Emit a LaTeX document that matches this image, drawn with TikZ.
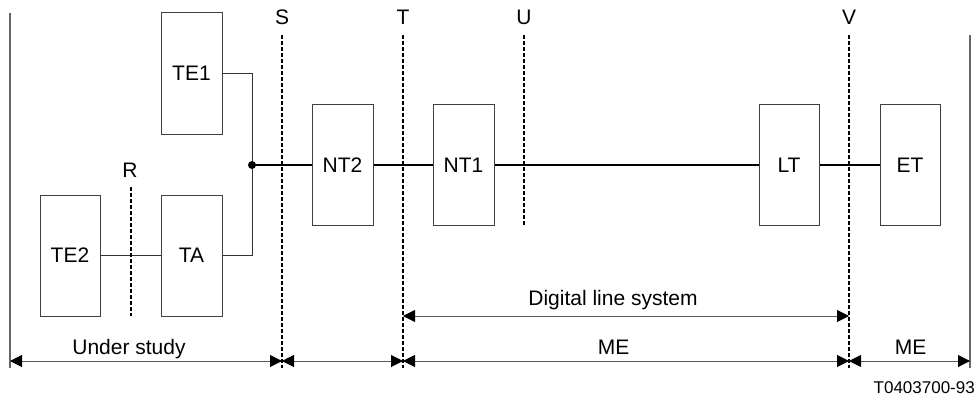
\documentclass[tikz,border=0pt]{standalone}
\usepackage{fontspec}
\setmainfont{Liberation Sans}
\usetikzlibrary{arrows.meta}
\begin{document}
\begin{tikzpicture}[x=1pt,y=-1pt,
  box/.style={draw=black!75,line width=1pt,rectangle,inner sep=0pt,font=\fontsize{21}{25}\selectfont},
  lbl/.style={inner sep=0pt,anchor=base,font=\fontsize{21}{25}\selectfont},
  thin/.style={draw=black!80,line width=1pt},
  thick/.style={draw=black,line width=1.8pt},
  refline/.style={draw=black,line width=1.6pt,dash pattern=on 4pt off 2pt},
  bound/.style={draw=black!60,line width=1.3pt},
  tip/.style={},
  dim/.style={draw=black!65,line width=1pt,{Triangle[length=12pt,width=12pt,black]}-{Triangle[length=12pt,width=12pt,black]}}
]
\useasboundingbox (0,0) rectangle (979,401);
% boxes
\node[box,minimum width=61pt,minimum height=121pt] (TE1) at (191.5,73.5) {TE1};
\node[box,minimum width=60pt,minimum height=121pt] (TE2) at (70,255.5) {TE2};
\node[box,minimum width=61pt,minimum height=121pt] (TA) at (191.5,255.5) {TA};
\node[box,minimum width=61pt,minimum height=120pt] (NT2) at (342.5,165) {NT2};
\node[box,minimum width=61pt,minimum height=120pt] (NT1) at (463.5,165) {NT1};
\node[box,minimum width=60pt,minimum height=120pt] (LT) at (789,165) {LT};
\node[box,minimum width=60pt,minimum height=120pt] (ET) at (910,165) {ET};
% reference point labels
\node[lbl] (R) at (130,177) {R};
\node[lbl] (S) at (282,25) {S};
\node[lbl] (T) at (403,25) {T};
\node[lbl] (U) at (524,25) {U};
\node[lbl] (V) at (849,25) {V};
% coordinates
\coordinate (dot) at (252,165);
\coordinate (Rt) at (131,187); \coordinate (Rb) at (131,316);
\coordinate (St) at (282,35); \coordinate (Sb) at (282,368);
\coordinate (Tt) at (403,35); \coordinate (Tb) at (403,368);
\coordinate (Ut) at (524,35); \coordinate (Ub) at (524,225);
\coordinate (Vt) at (849,35); \coordinate (Vb) at (849,368);
\coordinate (Lt) at (10,13); \coordinate (Lb) at (10,368);
\coordinate (Et) at (970,35); \coordinate (Eb) at (970,368);
\coordinate (d0) at (10,361); \coordinate (d1) at (282,361);
\coordinate (d2) at (403,361); \coordinate (d3) at (849,361);
\coordinate (d4) at (970,361);
\coordinate (g0) at (403,316); \coordinate (g1) at (849,316);
% boundaries
\draw[bound] (Lt) -- (Lb);
\draw[bound] (Et) -- (Eb);
% connectors
\draw[thin] (TE1.east) -| (dot);
\draw[thin] (TA.east) -| (dot);
\draw[thin] (TE2.east) -- (TA.west);
\draw[thick] (dot) -- (NT2.west);
\draw[thick] (NT2.east) -- (NT1.west);
\draw[thick] (NT1.east) -- (LT.west);
\draw[thick] (LT.east) -- (ET.west);
\fill (dot) circle (4pt);
% reference lines
\draw[refline] (Rt) -- (Rb);
\draw[refline] (St) -- (Sb);
\draw[refline] (Tt) -- (Tb);
\draw[refline] (Ut) -- (Ub);
\draw[refline] (Vt) -- (Vb);
% dimension arrows
\draw[dim] (d0) -- (d1);
\draw[dim] (d1) -- (d2);
\draw[dim] (d2) -- (d3);
\draw[dim] (d3) -- (d4);
\draw[dim] (g0) -- (g1);
\node[lbl] (us) at (129,354) {Under study};
\node[lbl] (me1) at (613.5,354) {ME};
\node[lbl] (me2) at (910.5,354) {ME};
\node[lbl] (dls) at (613,305) {Digital line system};
\node[lbl,anchor=base east,font=\fontsize{17}{20}\selectfont] (fig) at (975,393) {T0403700-93};
\end{tikzpicture}
\end{document}
